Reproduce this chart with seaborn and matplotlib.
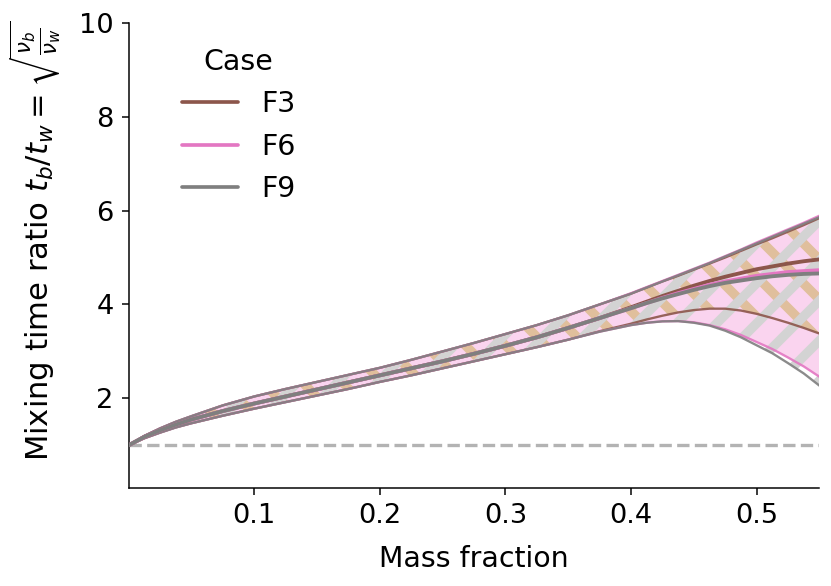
import matplotlib
matplotlib.use("Agg")
import matplotlib.pyplot as plt
import numpy as np
import pandas as pd
import seaborn as sns

# ---------------- data ----------------
mass_fraction = [0.0, 0.0125, 0.025, 0.0375, 0.05, 0.075, 0.1, 0.125, 0.15, 0.175,
                 0.2, 0.225, 0.25, 0.275, 0.3, 0.325, 0.35, 0.375, 0.4,
                 0.4125, 0.425, 0.4375, 0.45, 0.4625, 0.475, 0.4875, 0.5,
                 0.5125, 0.525, 0.5375, 0.55]

mean_F3 = [1.00, 1.18, 1.32, 1.44, 1.55, 1.73, 1.89, 2.04, 2.19, 2.34,
           2.49, 2.64, 2.79, 2.95, 3.12, 3.30, 3.50, 3.71, 3.94,
           4.06, 4.18, 4.29, 4.40, 4.50, 4.59, 4.67, 4.75,
           4.81, 4.87, 4.92, 4.96]
upper_F3 = [1.00, 1.20, 1.36, 1.50, 1.62, 1.85, 2.04, 2.20, 2.35, 2.50,
            2.65, 2.82, 3.00, 3.18, 3.37, 3.56, 3.77, 4.00, 4.23,
            4.36, 4.49, 4.61, 4.74, 4.87, 5.00, 5.14, 5.28,
            5.41, 5.55, 5.69, 5.84]
lower_F3 = [1.00, 1.15, 1.27, 1.38, 1.47, 1.63, 1.78, 1.92, 2.06, 2.20,
            2.35, 2.49, 2.64, 2.79, 2.94, 3.09, 3.25, 3.43, 3.59,
            3.68, 3.76, 3.83, 3.88, 3.91, 3.91, 3.87, 3.80,
            3.71, 3.61, 3.50, 3.38]

mean_F6 = [1.00, 1.18, 1.32, 1.44, 1.55, 1.73, 1.89, 2.04, 2.19, 2.34,
           2.49, 2.64, 2.79, 2.95, 3.12, 3.30, 3.50, 3.71, 3.92,
           4.03, 4.14, 4.24, 4.33, 4.42, 4.49, 4.55, 4.61,
           4.65, 4.69, 4.71, 4.73]
upper_F6 = [1.00, 1.20, 1.36, 1.50, 1.62, 1.85, 2.04, 2.20, 2.35, 2.50,
            2.65, 2.82, 3.00, 3.18, 3.37, 3.56, 3.77, 4.00, 4.24,
            4.37, 4.50, 4.63, 4.76, 4.89, 5.03, 5.17, 5.32,
            5.46, 5.60, 5.74, 5.89]
lower_F6 = [1.00, 1.15, 1.27, 1.38, 1.47, 1.63, 1.78, 1.92, 2.06, 2.20,
            2.35, 2.49, 2.64, 2.79, 2.94, 3.09, 3.25, 3.42, 3.56,
            3.61, 3.64, 3.645, 3.62, 3.56, 3.47, 3.35, 3.20,
            3.05, 2.87, 2.68, 2.46]

mean_F9 = [1.00, 1.18, 1.32, 1.44, 1.55, 1.73, 1.89, 2.04, 2.19, 2.34,
           2.49, 2.64, 2.79, 2.95, 3.12, 3.30, 3.50, 3.71, 3.92,
           4.03, 4.13, 4.22, 4.31, 4.39, 4.46, 4.51, 4.56,
           4.60, 4.63, 4.65, 4.66]
upper_F9 = [1.00, 1.20, 1.36, 1.50, 1.62, 1.85, 2.04, 2.20, 2.35, 2.50,
            2.65, 2.82, 3.00, 3.18, 3.37, 3.56, 3.77, 4.00, 4.23,
            4.36, 4.49, 4.62, 4.75, 4.88, 5.02, 5.16, 5.30,
            5.44, 5.58, 5.72, 5.86]
lower_F9 = [1.00, 1.15, 1.27, 1.38, 1.47, 1.63, 1.78, 1.92, 2.06, 2.20,
            2.35, 2.49, 2.64, 2.79, 2.94, 3.09, 3.25, 3.42, 3.56,
            3.61, 3.64, 3.645, 3.61, 3.55, 3.44, 3.30, 3.13,
            2.96, 2.75, 2.53, 2.27]

cases = ["F3", "F6", "F9"]
x_ticks = [0.1, 0.2, 0.3, 0.4, 0.5]
y_ticks = [2, 4, 6, 8, 10]
reference_ratio = 1.0

# ---------------- styling ----------------
colors = {"F3": "#8c564b", "F6": "#e377c2", "F9": "#7f7f7f"}
band_style = {
    "F3": dict(facecolor="none", edgecolor="#e0bf9c", hatch="\\\\", linewidth=0, zorder=1.2),
    "F6": dict(facecolor="#fad4ef", edgecolor="none", linewidth=0, zorder=1.1),
    "F9": dict(facecolor="none", edgecolor="#d3d3d3", hatch="//", linewidth=0, zorder=1.3),
}

DPI = 240
FS = 8.2
FS_LAB = 8.5
sns.set_theme(style="ticks", rc={
    "font.size": FS, "axes.labelsize": FS_LAB, "xtick.labelsize": FS, "ytick.labelsize": FS,
    "legend.fontsize": FS_LAB, "legend.title_fontsize": FS_LAB,
    "axes.linewidth": 0.45, "xtick.major.width": 0.45, "ytick.major.width": 0.45,
    "xtick.major.size": 2.0, "ytick.major.size": 2.0,
    "xtick.major.pad": 2.5, "ytick.major.pad": 2.5,
    "axes.edgecolor": "black", "xtick.color": "black", "ytick.color": "black",
    "axes.labelcolor": "black", "text.color": "black",
})
plt.rcParams["font.family"] = ["DejaVu Sans"]
plt.rcParams["hatch.linewidth"] = 2.8

frames = []
series = {
    "F3": (mean_F3, lower_F3, upper_F3),
    "F6": (mean_F6, lower_F6, upper_F6),
    "F9": (mean_F9, lower_F9, upper_F9),
}
for c in cases:
    m, lo, up = series[c]
    frames.append(pd.DataFrame({"x": mass_fraction, "mean": m, "lower": lo,
                                "upper": up, "Case": c}))
df = pd.concat(frames, ignore_index=True)

fig = plt.figure(figsize=(831 / DPI, 586 / DPI), dpi=DPI)
ax = fig.add_axes([0.1548, 0.168, 0.8313, 0.7932])

# shaded bands
for c in ["F6", "F3", "F9"]:
    d = df[df["Case"] == c]
    ax.fill_between(d["x"], d["lower"], d["upper"], **band_style[c])

# bound lines
for col in ["upper", "lower"]:
    sns.lineplot(data=df, x="x", y=col, hue="Case", hue_order=cases, palette=colors,
                 lw=0.7, alpha=0.9, legend=False, ax=ax, zorder=2)

# mean lines
sns.lineplot(data=df, x="x", y="mean", hue="Case", hue_order=cases, palette=colors,
             lw=1.15, ax=ax, zorder=3)

ax.axhline(reference_ratio, color="#b3b3b3", lw=1.0, ls="--", zorder=0.5)

ax.set_xlim(0, 0.55)
ax.set_ylim(0.1, 10)
ax.set_xticks(x_ticks)
ax.set_xticklabels([f"{t:.1f}" for t in x_ticks])
ax.set_yticks(y_ticks)
ax.set_xlabel("Mass fraction", labelpad=5)
ax.set_ylabel(r"Mixing time ratio $t_b/t_w = \sqrt{\frac{\nu_b}{\nu_w}}$",
              fontsize=9.2, labelpad=4.8)
ax.yaxis.label.set_y(0.532)
sns.despine(ax=ax)

sns.move_legend(ax, "upper left", bbox_to_anchor=(0.04, 1.0), frameon=False,
                title="Case", fontsize=FS_LAB, title_fontsize=FS_LAB)
leg = ax.get_legend()
for h in leg.get_lines():
    h.set_linewidth(1.1)

fig.savefig("out.png", dpi=DPI)
